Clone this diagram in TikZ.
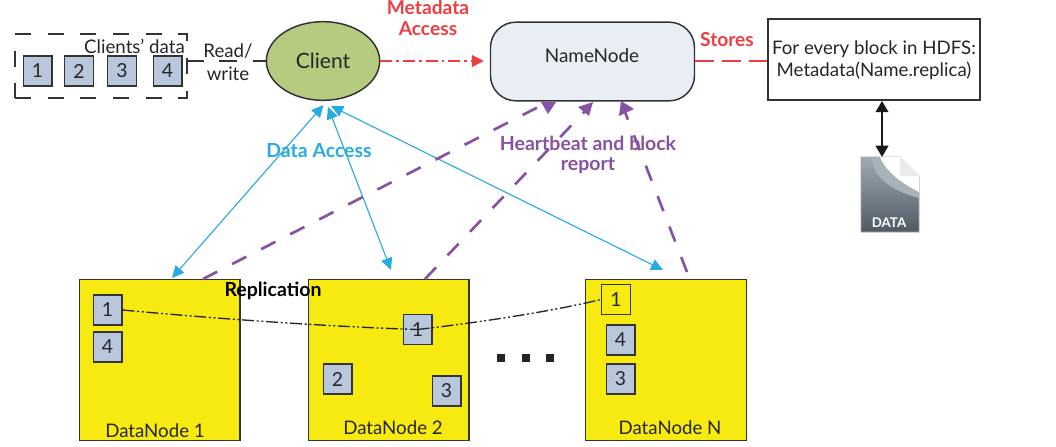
\documentclass[tikz,border=0pt]{standalone}
\usepackage{fontspec}
\setmainfont{Lato}
\usetikzlibrary{arrows.meta,calc,positioning,shapes.geometric}
\definecolor{boxblue}{HTML}{B8C7DC}
\definecolor{dnyellow}{HTML}{F6EA10}
\definecolor{clientgreen}{HTML}{B5CB80}
\definecolor{nnfill}{HTML}{E8EDF6}
\definecolor{redc}{HTML}{EF3E42}
\definecolor{bluec}{HTML}{29ABE2}
\definecolor{purplec}{HTML}{8752A1}
\definecolor{linec}{HTML}{333333}
\definecolor{icontopc}{RGB}{158,170,176}
\definecolor{iconbotc}{RGB}{80,90,102}
\definecolor{iconband}{RGB}{166,179,184}
\tikzset{
  px/.style={x=0.75pt,y=-0.75pt},
  blk/.style={draw=linec,line width=1pt,fill=boxblue,minimum width=21.5pt,minimum height=22.5pt,inner sep=0pt,font=\fontsize{14.5}{16}\selectfont,text=black!85},
  dn/.style={draw=linec,line width=1pt,fill=dnyellow,minimum width=120.5pt,minimum height=121pt,inner sep=0pt},
  lbl/.style={inner sep=0pt,font=\fontsize{14}{16}\selectfont,text=black!85},
  redlbl/.style={inner sep=0pt,font=\fontsize{14.4}{16}\selectfont\bfseries,text=redc},
  purplbl/.style={inner sep=0pt,font=\fontsize{14.6}{16}\selectfont\bfseries,text=purplec},
  blueline/.style={draw=bluec,line width=0.85pt,{Triangle[length=9pt,width=8.5pt]}-{Triangle[length=9pt,width=8.5pt]}},
  purpline/.style={draw=purplec,line width=2pt,dash pattern=on 12pt off 12.5pt},
  dotsq/.style={fill=black!85,minimum size=5.5pt,inner sep=0pt},
  repline/.style={line width=1pt,black!85,dash pattern=on 9pt off 2pt on 1.5pt off 2pt on 1.5pt off 2pt},
}
\begin{document}
\begin{tikzpicture}[px]
\useasboundingbox (0,0) rectangle (1056,446);
% client data group
\node[draw=linec,line width=0.9pt,dash pattern=on 12pt off 12.5pt,minimum width=129pt,minimum height=48pt,inner sep=0pt] (group) at (101,66) {};
\node[lbl,anchor=east] (cdata) at (185,46) {Clients’ data};
\node[blk] (c1) at (37.5,71) {1};
\node[blk] (c2) at (79,71) {2};
\node[blk] (c3) at (122,71) {3};
\node[blk] (c4) at (167.5,71) {4};
% main nodes
\node[draw=linec,line width=1.1pt,fill=clientgreen,ellipse,minimum width=85pt,minimum height=59pt,inner sep=0pt,font=\fontsize{15.8}{18}\selectfont,text=black!85] (client) at (323,61) {Client};
\node[draw=linec,line width=1.1pt,fill=nnfill,rounded corners=19pt,minimum width=153pt,minimum height=59pt,inner sep=0pt] (namenode) at (592.5,61.5) {};
\node[lbl,font=\fontsize{14.2}{16}\selectfont] (nnlabel) at (592,56) {NameNode};
\node[draw=linec,line width=1.1pt,fill=white,minimum width=159pt,minimum height=61pt,inner sep=0pt] (meta) at (874,59.5) {};
\node[lbl] (meta1) at (874,49) {For every block in HDFS:};
\node[lbl] (meta2) at (874,71) {Metadata(Name.replica)};
% data icon
\shade[top color=icontopc,bottom color=iconbotc,draw=gray!70,line width=0.4pt] (861,157) -- (900,157) -- (919,176) -- (919,232) -- (861,232) -- cycle;
\fill[iconband] (872,157) .. controls (872,178) and (893,191) .. (919,198) -- (919,176) -- (900,157) -- cycle;
\fill[white] (880,157) .. controls (886,172) and (903,184) .. (919,192) -- (919,176) -- (900,157) -- cycle;
\fill[black!8] (900,157) -- (900,176) -- (919,176) -- cycle;
\node[inner sep=0pt,font=\fontsize{10}{12}\selectfont\bfseries,text=white] (datalabel) at (889,223) {DATA};
\coordinate (icontop) at (882,157);
% datanodes
\node[dn] (dn1) at (159.5,360) {};
\node[dn] (dn2) at (388.5,360) {};
\node[dn] (dn3) at (666,360) {};
\node[lbl,anchor=base] (dn1l) at (155,437) {DataNode 1};
\node[lbl,anchor=base] (dn2l) at (393,434) {DataNode 2};
\node[lbl,anchor=base] (dn3l) at (670,434) {DataNode N};
\node[blk] (a1) at (107.5,310) {1};
\node[blk] (a4) at (107.5,347) {4};
\node[blk] (b1) at (417.5,329.5) {1};
\node[blk] (b2) at (337.5,379) {2};
\node[blk] (b3) at (446.5,391) {3};
\node[blk,fill=dnyellow] (n1) at (616,299.5) {1};
\node[blk] (n4) at (620.5,340) {4};
\node[blk] (n3) at (620.5,379) {3};
\node[inner sep=0pt,font=\fontsize{14.6}{16}\selectfont\bfseries,text=black] (repl) at (273,291) {Replication};
% ellipsis dots
\node[dotsq] (d1) at (501,358) {};
\node[dotsq] (d2) at (526,358) {};
\node[dotsq] (d3) at (550,358) {};
% replication line
\draw[repline] (a1.east) .. controls (230,320) and (340,327) .. (b1.center);
\draw[repline] (b1.center) .. controls (465,324) and (540,314) .. (n1.west);
% read/write link
\draw[line width=0.9pt,linec,dash pattern=on 12pt off 11.5pt on 13.5pt off 12pt on 11pt] (group.east |- client) -- (client.west);
\node[lbl] (rw1) at (228,51) {Read/};
\node[lbl] (rw2) at (228,74) {write};
% metadata
\draw[redc,line width=0.9pt,dash pattern=on 9pt off 3pt on 2pt off 3pt,shorten >=4.5pt,-{Triangle[length=9pt,width=9pt]}] (client.east) -- (client.east -| namenode.west);
\node[redlbl] (ma1) at (428,7) {Metadata};
\node[redlbl] (ma2) at (428,29) {Access};
\draw[redc,line width=0.9pt,dash pattern=on 14pt off 6pt] (client.east -| namenode.east) -- (client.east -| meta.west);
\node[redlbl] (st) at (727,40) {Stores};
% meta <-> data
\draw[line width=1.5pt,black!90,{Triangle[length=8.5pt,width=9.5pt]}-{Triangle[length=8.5pt,width=9.5pt]}] (meta.south -| icontop) -- (icontop);
% data access
\coordinate (ca) at (323.5,105);
\coordinate (cb) at (328,107);
\coordinate (cc) at (331,106);
\coordinate (da) at (172,278);
\coordinate (db) at (391,270);
\coordinate (dc) at (663,270);
\draw[blueline] (ca) -- (da);
\draw[blueline] (cb) -- (db);
\draw[blueline] (cc) -- (dc);
\node[inner sep=0pt,font=\fontsize{14.6}{16}\selectfont\bfseries,text=bluec] (dal) at (319,151) {Data Access};
% heartbeat
\coordinate (pa) at (203,279);
\coordinate (pb) at (425,279);
\coordinate (pc) at (687,272);
\coordinate (qa) at (548,102);
\coordinate (qb) at (586,110);
\coordinate (qc) at (625,112);
\draw[purpline] (pa) -- (qa);
\draw[purpline] (pb) -- (qb);
\draw[purpline] (pc) -- (qc);
\fill[purplec] (541,102) -- (556,102) -- (548,114) -- cycle;
\fill[purplec] (593,102) -- (578,107) -- (589,116) -- cycle;
\fill[purplec] (621,101) -- (619,116) -- (634,109) -- cycle;
\node[purplbl] (hb1) at (588,143) {Heartbeat and block};
\node[purplbl] (hb2) at (588,166) {report};
\end{tikzpicture}
\end{document}
